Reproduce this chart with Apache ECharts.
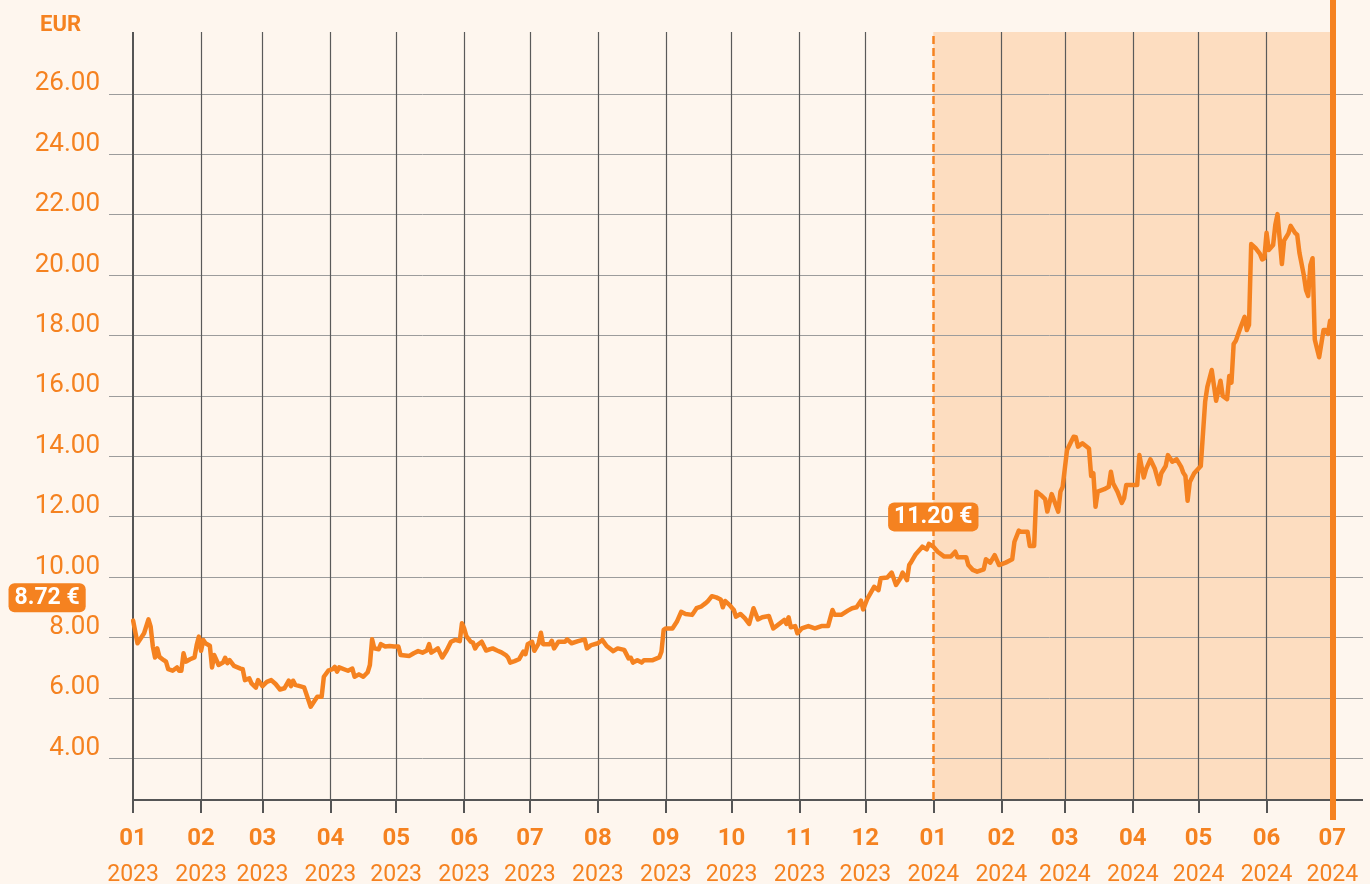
<!DOCTYPE html>
<html>
<head>
<meta charset="utf-8">
<script src="https://cdn.jsdelivr.net/npm/echarts@6/dist/echarts.min.js"></script>
<style>
html,body{margin:0;padding:0;background:#FEF6EE;}
#chart{width:1370px;height:884px;}
</style>
</head>
<body>
<div id="chart"></div>
<script>
// ---- data ----
const startDate = '2023-01-01';
const days = [0,2,5,7,8,9,10,11,12,14,15,16,18,20,21,22,23,24,26,28,29,30,31,32,33,35,36,37,39,41,42,43,44,46,49,50,51,53,54,56,57,59,61,63,65,67,69,71,72,73,74,78,81,83,84,86,87,89,91,92,93,94,98,100,101,103,105,107,108,109,110,112,113,115,117,119,121,122,126,128,130,132,134,135,136,138,139,141,143,145,147,149,150,151,152,154,155,156,157,159,161,164,166,168,170,171,172,174,176,178,179,180,182,183,185,186,187,190,191,192,194,197,198,200,203,206,207,209,212,214,216,219,221,224,226,227,228,230,232,233,237,240,241,242,243,245,246,248,250,252,255,257,259,261,262,264,266,268,269,270,272,274,275,277,279,281,283,285,287,290,292,294,297,298,299,300,302,303,305,308,311,314,317,319,320,323,326,328,330,332,333,335,338,340,341,344,346,348,350,351,353,354,355,357,359,360,362,363,365,367,370,373,375,376,380,381,383,385,388,389,391,393,395,398,401,402,404,405,408,409,411,412,414,416,417,419,422,423,424,426,429,430,431,433,436,437,438,439,440,443,445,446,447,449,451,452,453,458,459,460,461,462,464,466,468,469,471,472,474,476,478,479,480,481,482,484,487,489,490,492,494,496,497,499,500,501,502,503,505,507,508,509,510,512,514,515,516,517,518,520,521,522,524,525,527,528,530,531,532,534,535,536,537,538,539,541,543,544,545,546];
const prices = [8.56,7.81,8.14,8.60,8.36,7.70,7.34,7.64,7.36,7.25,7.20,6.95,6.90,7.01,6.90,6.90,7.48,7.20,7.28,7.34,7.75,8.03,7.56,7.92,7.81,7.73,7.01,7.42,7.09,7.17,7.33,7.15,7.25,7.06,6.97,6.95,6.59,6.65,6.48,6.34,6.59,6.39,6.53,6.59,6.46,6.28,6.32,6.57,6.39,6.57,6.43,6.35,5.71,5.93,6.04,6.04,6.70,6.90,6.95,7.03,6.87,7.01,6.90,6.97,6.70,6.78,6.70,6.85,7.09,7.94,7.64,7.61,7.78,7.70,7.72,7.70,7.70,7.42,7.39,7.48,7.55,7.50,7.57,7.78,7.50,7.59,7.64,7.34,7.57,7.86,7.92,7.88,8.47,8.30,8.05,7.86,7.83,7.64,7.75,7.86,7.57,7.64,7.57,7.51,7.42,7.34,7.17,7.22,7.28,7.53,7.45,7.78,7.86,7.56,7.81,8.16,7.78,7.78,7.89,7.64,7.86,7.86,7.94,7.81,7.88,7.94,7.64,7.75,7.81,7.92,7.72,7.55,7.64,7.59,7.31,7.33,7.17,7.25,7.17,7.25,7.25,7.34,7.53,8.25,8.30,8.30,8.30,8.52,8.85,8.78,8.75,8.97,9.02,9.13,9.19,9.37,9.33,9.26,9.00,9.21,9.08,8.91,8.69,8.78,8.64,8.45,8.97,8.60,8.67,8.71,8.30,8.41,8.58,8.45,8.67,8.34,8.38,8.14,8.30,8.38,8.30,8.38,8.38,8.91,8.75,8.75,8.89,8.97,9.00,9.22,8.93,9.30,9.68,9.57,9.96,9.99,10.15,9.74,9.96,10.15,9.90,10.40,10.51,10.76,10.92,11.01,10.92,11.10,11.01,10.84,10.68,10.68,10.84,10.66,10.66,10.40,10.24,10.18,10.26,10.59,10.48,10.73,10.40,10.48,10.59,11.17,11.54,11.50,11.50,11.03,11.03,12.83,12.72,12.58,12.17,12.75,12.17,12.83,12.99,14.21,14.65,14.63,14.32,14.43,14.26,13.35,13.44,12.33,12.83,12.91,12.99,13.49,13.11,12.83,12.46,12.61,13.05,13.05,14.04,13.66,13.30,13.57,13.90,13.60,13.08,13.44,13.68,14.04,13.82,13.90,13.66,13.46,13.35,12.53,13.15,13.44,13.68,15.81,16.30,16.86,15.84,16.50,16.00,15.89,16.66,16.44,17.72,17.83,18.24,18.62,18.18,18.35,21.03,20.89,20.70,20.52,20.56,21.40,20.83,21.00,21.66,22.02,20.37,21.14,21.38,21.63,21.40,21.33,20.74,20.00,19.51,19.31,20.33,20.56,17.87,17.28,18.18,18.18,18.05,18.49];
const monthTicks = ['2023-01-01','2023-02-01','2023-03-01','2023-04-01','2023-05-01','2023-06-01','2023-07-01','2023-08-01','2023-09-01','2023-10-01','2023-11-01','2023-12-01','2024-01-01','2024-02-01','2024-03-01','2024-04-01','2024-05-01','2024-06-01','2024-07-01'];
const monthLabels = ['01','02','03','04','05','06','07','08','09','10','11','12','01','02','03','04','05','06','07'];
const yearLabels = ['2023','2023','2023','2023','2023','2023','2023','2023','2023','2023','2023','2023','2024','2024','2024','2024','2024','2024','2024'];
const yTicks = [4,6,8,10,12,14,16,18,20,22,24,26];
const yRange = [2.62, 28.05];
const xRange = ['2022-12-21','2024-07-15'];
const highlightStart = '2024-01-01';
const highlightEnd = '2024-07-01';
const startPrice = 8.72;
const markPrice = 11.20;
const currency = 'EUR';

// ---- helpers ----
const ORANGE = '#F58220';
const FONT = 'Roboto';
function ts(s){const p=s.split('-').map(Number);return new Date(p[0],p[1]-1,p[2]).getTime();}
const base = new Date(ts(startDate));
const seriesData = days.map((d,i)=>[new Date(base.getFullYear(), base.getMonth(), base.getDate()+d).getTime(), prices[i]]);
const tickTs = monthTicks.map(ts);
function tickLabel(v){
  let best=0, bd=Infinity;
  tickTs.forEach((t,i)=>{const dd=Math.abs(t-v); if(dd<bd){bd=dd;best=i;}});
  return '{m|'+monthLabels[best]+'}\n{y|'+yearLabels[best]+'}';
}
const hStart = ts(highlightStart), hEnd = ts(highlightEnd);
const xMin = ts(xRange[0]), xMax = ts(xRange[1]);

const gridLines = [];
yTicks.forEach(v=>gridLines.push({yAxis:v, lineStyle:{color:'#9c9c9c', width:1, type:'solid'}}));
tickTs.forEach((t,i)=>{
  if(i===0 || t===hStart || t===hEnd) return;
  gridLines.push({xAxis:t, lineStyle:{color:'#5a5a5a', width:1.2, type:'solid'}});
});
gridLines.push({xAxis:tickTs[0], lineStyle:{color:'#555', width:2, type:'solid'}});
gridLines.push([{coord:[tickTs[0], yRange[0]]},{coord:[xMax, yRange[0]], lineStyle:{color:'#555', width:2, type:'solid'}}]);

const chart = echarts.init(document.getElementById('chart'), null, {renderer:'canvas'});
chart.setOption({
  backgroundColor:'#FEF6EE',
  animation:false,
  textStyle:{fontFamily:FONT},
  graphic:[{type:'text', left:40, top:14, style:{text:currency, fill:ORANGE, font:'bold 22px '+FONT}}],
  grid:[
    {left:109, right:7, top:32, bottom:84, containLabel:false, outerBoundsMode:'none'},
    {left:109, right:7, top:0, bottom:64, containLabel:false, outerBoundsMode:'none'}
  ],
  xAxis:[
    {type:'value', gridIndex:0, min:xMin, max:xMax, scale:true,
     axisLine:{show:false}, splitLine:{show:false},
     axisTick:{show:true, customValues:tickTs, length:13, lineStyle:{color:'#555', width:2}},
     axisLabel:{show:true, customValues:tickTs, formatter:tickLabel, margin:21, hideOverlap:false,
       rich:{m:{fontSize:24, fontWeight:'bold', color:ORANGE, lineHeight:36, fontFamily:FONT},
             y:{fontSize:23, color:ORANGE, lineHeight:36, fontFamily:FONT}}}},
    {type:'value', gridIndex:1, min:xMin, max:xMax, scale:true, show:false}
  ],
  yAxis:[
    {type:'value', gridIndex:0, min:yRange[0], max:yRange[1],
     axisLine:{show:false}, axisTick:{show:false}, splitLine:{show:false},
     axisLabel:{show:true, customValues:yTicks, formatter:v=>Number(v).toFixed(2), color:ORANGE, fontSize:26, lineHeight:20, margin:9, verticalAlign:'bottom', fontFamily:FONT}},
    {type:'value', gridIndex:1, min:0, max:1, show:false}
  ],
  series:[
    {type:'line', xAxisIndex:0, yAxisIndex:0, data:seriesData, z:3,
     symbol:'none', showSymbol:false, smooth:false,
     lineStyle:{color:ORANGE, width:4.5, join:'round', cap:'round'},
     markArea:{silent:true, z:1, itemStyle:{color:'#FDDDC0'}, data:[[{xAxis:hStart},{xAxis:hEnd}]]},
     markLine:{silent:true, z:2, symbol:['none','none'], label:{show:false}, animation:false, data:gridLines},
     markPoint:{silent:true, z:8, symbol:'circle', symbolSize:0,
       label:{show:true, position:'inside', color:'#fff', fontWeight:'bold', fontSize:23, fontFamily:FONT,
              backgroundColor:ORANGE, borderRadius:6, padding:[3,6,3,6]},
       data:[
         {coord:[tickTs[0], startPrice], value:startPrice, label:{offset:[-86,-18], formatter:startPrice.toFixed(2)+' €'}},
         {coord:[hStart, markPrice], value:markPrice, label:{offset:[0,-24], formatter:markPrice.toFixed(2)+' €'}}
       ]}
    },
    {type:'line', xAxisIndex:0, yAxisIndex:0, data:[], z:2,
     markLine:{silent:true, z:2, symbol:['none','none'], label:{show:false}, animation:false,
       lineStyle:{color:ORANGE, width:2.5, type:[8,4]}, data:[{xAxis:hStart}]}},
    {type:'line', xAxisIndex:1, yAxisIndex:1, data:[], z:10,
     markLine:{silent:true, z:10, symbol:['none','none'], label:{show:false}, animation:false,
       lineStyle:{color:ORANGE, width:6, type:'solid'}, data:[{xAxis:hEnd}]}}
  ]
});
</script>
</body>
</html>
